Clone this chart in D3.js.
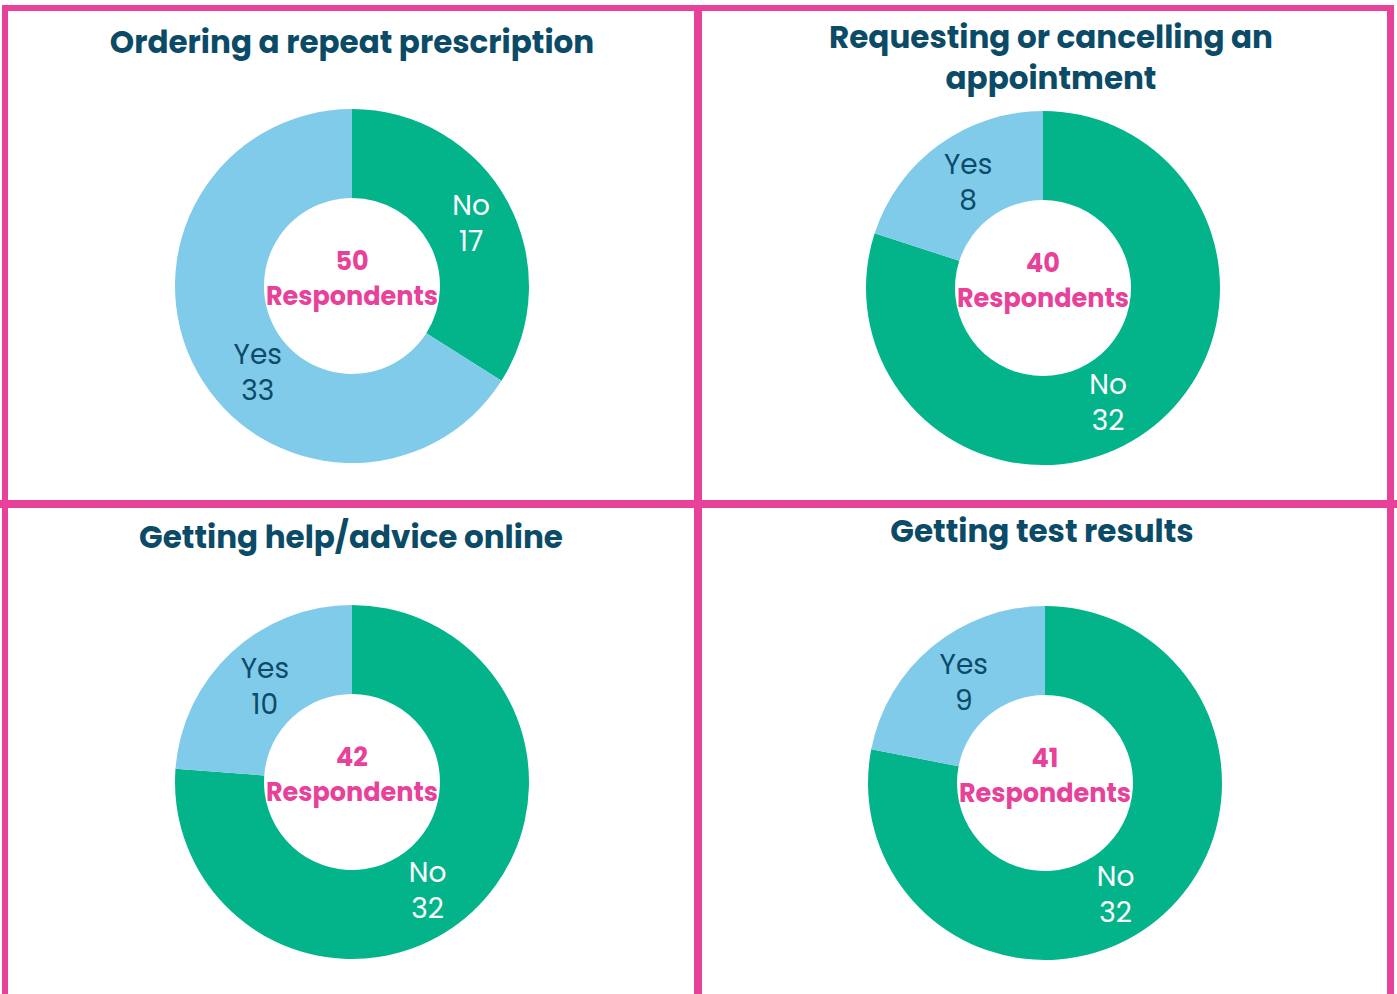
<!DOCTYPE html>
<html>
<head>
<meta charset="utf-8">
<script src="https://d3js.org/d3.v7.min.js"></script>
<style>
  body { margin: 0; background: #fff; }
  svg { display: block; font-family: Poppins, Inter, 'Open Sans', sans-serif; }
</style>
</head>
<body>
<svg id="vis"></svg>
<script>
  // data
  var titles = [
    ['Ordering a repeat prescription'],
    ['Requesting or cancelling an', 'appointment'],
    ['Getting help/advice online'],
    ['Getting test results']
  ]
  var categories = ['No', 'Yes']
  var noCounts = [17, 32, 32, 32]
  var yesCounts = [33, 8, 10, 9]

  var width = 1397, height = 994
  var pink = '#e8419a', green = '#03b48b', blue = '#80caea', navy = '#0b4b67'

  var svg = d3.select('#vis').attr('width', width).attr('height', height)

  // panel layout: donut centre, title position
  var panels = [
    {cx: 352, cy: 286, tx: 352, ty: 53},
    {cx: 1043, cy: 288, tx: 1051, ty: 48},
    {cx: 352, cy: 782, tx: 351, ty: 548},
    {cx: 1045, cy: 783, tx: 1042, ty: 542}
  ]
  var outerR = 177, innerR = 88

  var color = d3.scaleOrdinal().domain(categories).range([green, blue])
  var textColor = d3.scaleOrdinal().domain(categories).range(['#fff', navy])

  var pie = d3.pie().sort(null).value(function(d) { return d.value })
  var arc = d3.arc().innerRadius(innerR).outerRadius(outerR)

  panels.forEach(function(p, i) {
    var data = [
      {name: 'No', value: noCounts[i]},
      {name: 'Yes', value: yesCounts[i]}
    ]
    var total = noCounts[i] + yesCounts[i]
    var g = svg.append('g').attr('transform', 'translate(' + p.cx + ',' + p.cy + ')')

    var slices = pie(data)
    g.selectAll('path')
      .data(slices)
      .enter().append('path')
      .attr('d', arc)
      .attr('fill', function(d) { return color(d.data.name) })

    // labels: at the centroid; the big slice's label sits a bit lower (like Excel's best fit)
    slices.forEach(function(s) {
      var mid = (s.startAngle + s.endAngle) / 2
      var r = (innerR + outerR) / 2
      if (s.endAngle - s.startAngle > Math.PI) {
        mid = mid + (Math.PI - mid) * 0.2
        r = 129
      }
      var x = r * Math.sin(mid) + 3, y = -r * Math.cos(mid)
      var t = g.append('text')
        .attr('text-anchor', 'middle')
        .attr('fill', textColor(s.data.name))
        .style('font-size', '28px')
      t.append('tspan').attr('x', x).attr('y', y - 7).text(s.data.name)
      t.append('tspan').attr('x', x).attr('y', y + 29).text(s.data.value)
    })

    // centre text
    g.append('text')
      .attr('text-anchor', 'middle')
      .attr('y', -16)
      .attr('fill', pink)
      .style('font-size', '25.5px').style('font-weight', 'bold')
      .text(total)
    g.append('text')
      .attr('text-anchor', 'middle')
      .attr('y', 19)
      .attr('fill', pink)
      .style('font-size', '25.5px').style('font-weight', 'bold')
      .text('Respondents')

    // title
    titles[i].forEach(function(line, j) {
      svg.append('text')
        .attr('x', p.tx)
        .attr('y', p.ty + j * 41)
        .attr('text-anchor', 'middle')
        .attr('fill', navy)
        .style('font-size', '31px').style('font-weight', 'bold')
        .text(line)
    })
  })

  // pink frame
  var frame = [
    {x1: 2, y1: 8, x2: 1394, y2: 8, w: 6},
    {x1: 0, y1: 504, x2: 1397, y2: 504, w: 8},
    {x1: 5, y1: 5, x2: 5, y2: 994, w: 6},
    {x1: 698, y1: 5, x2: 698, y2: 994, w: 8},
    {x1: 1390.5, y1: 5, x2: 1390.5, y2: 994, w: 7}
  ]
  svg.selectAll('line.frame')
    .data(frame)
    .enter().append('line')
    .attr('class', 'frame')
    .attr('x1', function(d) { return d.x1 })
    .attr('y1', function(d) { return d.y1 })
    .attr('x2', function(d) { return d.x2 })
    .attr('y2', function(d) { return d.y2 })
    .attr('stroke', pink)
    .attr('stroke-width', function(d) { return d.w })
</script>
</body>
</html>
